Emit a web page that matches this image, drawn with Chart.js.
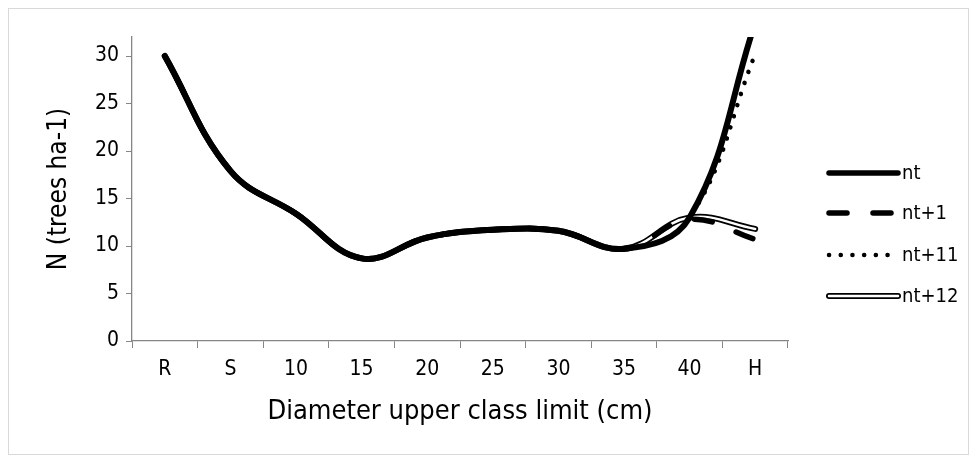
<!DOCTYPE html>
<html>
<head>
<meta charset="utf-8">
<script src="https://cdn.jsdelivr.net/npm/chart.js@4.4.1/dist/chart.umd.min.js"></script>
<style>
  html, body { margin: 0; padding: 0; background: #ffffff; }
  #wrap { position: relative; width: 977px; height: 459px; }
</style>
</head>
<body>
<div id="wrap"><canvas id="treesChart"></canvas></div>
<script>
// ===== DATA =====
const classLabels = ['R', 'S', '10', '15', '20', '25', '30', '35', '40', 'H'];
const seriesNames = ['nt', 'nt+1', 'nt+11', 'nt+12'];
const ntValues    = [30, 17.9, 13.4, 8.7, 10.9, 11.7, 11.6, 9.7, 13.0, 33.5];
const nt1Values   = [30, 17.9, 13.4, 8.7, 10.9, 11.7, 11.6, 9.7, 12.8, 10.7];
const nt11Values  = [30, 17.9, 13.4, 8.7, 10.9, 11.7, 11.6, 9.7, 13.0, 30.2];
const nt12Values  = [30, 17.9, 13.4, 8.7, 10.9, 11.7, 11.6, 9.7, 13.0, 11.8];
const yTicks      = [0, 5, 10, 15, 20, 25, 30];

const FONT = "'DejaVu Sans Condensed', 'DejaVu Sans', Verdana, sans-serif";
const AXIS_GRAY = '#868686';

// ===== LEGEND + FRAME PLUGIN =====
const legendPlugin = {
    id: 'sideLegend',
    afterDraw(chart) {
        const ctx = chart.ctx;
        ctx.save();
        // outer frame
        ctx.strokeStyle = '#d9d9d9';
        ctx.lineWidth = 1;
        ctx.strokeRect(8.5, 8.5, 960, 446);

        const x0 = 829, x1 = 898;
        const rowY = [173, 213, 255, 296];
        ctx.font = '20px ' + FONT;
        ctx.textBaseline = 'middle';
        ctx.fillStyle = '#000';
        seriesNames.forEach((name, i) => {
            const y = rowY[i];
            ctx.beginPath();
            ctx.moveTo(x0, y);
            ctx.lineTo(x1, y);
            ctx.strokeStyle = '#000';
            ctx.lineCap = 'round';
            if (i === 0) {
                ctx.setLineDash([]);
                ctx.lineWidth = 5.5;
                ctx.stroke();
            } else if (i === 1) {
                ctx.setLineDash([18, 26]);
                ctx.lineWidth = 5.5;
                ctx.stroke();
            } else if (i === 2) {
                ctx.setLineDash([0.1, 11.6]);
                ctx.lineWidth = 4.5;
                ctx.stroke();
            } else {
                ctx.setLineDash([]);
                ctx.lineWidth = 6;
                ctx.stroke();
                ctx.strokeStyle = '#fff';
                ctx.lineWidth = 2.5;
                ctx.beginPath();
                ctx.moveTo(x0, y);
                ctx.lineTo(x1, y);
                ctx.stroke();
            }
            ctx.setLineDash([]);
            ctx.fillText(name, 902, y + 1);
        });
        ctx.restore();
    }
};

const lineBase = {
    fill: false,
    tension: 0.4,
    pointRadius: 0,
    pointHoverRadius: 0,
    borderColor: '#000',
    borderCapStyle: 'round',
    borderJoinStyle: 'round',
    clip: 0
};

// ===== CHART =====
const canvas = document.getElementById('treesChart');
const treesChart = new Chart(canvas, {
    type: 'line',
    data: {
        labels: classLabels,
        datasets: [
            Object.assign({}, lineBase, { label: seriesNames[0], data: ntValues, borderWidth: 6 }),
            Object.assign({}, lineBase, { label: seriesNames[1], data: nt1Values, borderWidth: 5.5, borderDash: [18, 26], borderDashOffset: 20 }),
            Object.assign({}, lineBase, { label: seriesNames[2], data: nt11Values, borderWidth: 4.5, borderDash: [0.1, 11.6] }),
            Object.assign({}, lineBase, { label: seriesNames[3] + ' inner', data: nt12Values, borderWidth: 2.5, borderColor: '#fff' }),
            Object.assign({}, lineBase, { label: seriesNames[3], data: nt12Values, borderWidth: 6 })
        ]
    },
    options: {
        responsive: true,
        maintainAspectRatio: false,
        animation: false,
        events: [],
        layout: { padding: { left: 0, top: 37, right: 189, bottom: 0 } },
        plugins: {
            legend: { display: false },
            tooltip: { enabled: false }
        },
        scales: {
            x: {
                offset: true,
                grid: {
                    display: true,
                    offset: true,
                    drawOnChartArea: false,
                    drawTicks: true,
                    tickLength: 7,
                    color: AXIS_GRAY
                },
                border: { display: true, color: AXIS_GRAY, width: 1.3 },
                ticks: {
                    color: '#000',
                    font: { family: FONT, size: 21 },
                    padding: 9,
                    maxRotation: 0,
                    autoSkip: false
                },
                title: {
                    display: true,
                    text: 'Diameter upper class limit (cm)',
                    color: '#000',
                    font: { family: FONT, size: 27 },
                    padding: { top: 0, bottom: 31 }
                },
                afterFit(scale) { scale.height = 118; }
            },
            y: {
                min: 0,
                max: 32,
                afterBuildTicks(scale) {
                    scale.ticks = yTicks.map(v => ({ value: v }));
                },
                grid: {
                    display: true,
                    drawOnChartArea: false,
                    drawTicks: true,
                    tickLength: 6,
                    color: AXIS_GRAY
                },
                border: { display: true, color: AXIS_GRAY, width: 1.3 },
                ticks: {
                    color: '#000',
                    font: { family: FONT, size: 21 },
                    padding: 7
                },
                title: {
                    display: true,
                    text: 'N (trees ha-1)',
                    color: '#000',
                    font: { family: FONT, size: 26 },
                    padding: { top: 44, bottom: 0 }
                },
                afterFit(scale) { scale.width = 132; }
            }
        }
    },
    plugins: [legendPlugin]
});
</script>
</body>
</html>
